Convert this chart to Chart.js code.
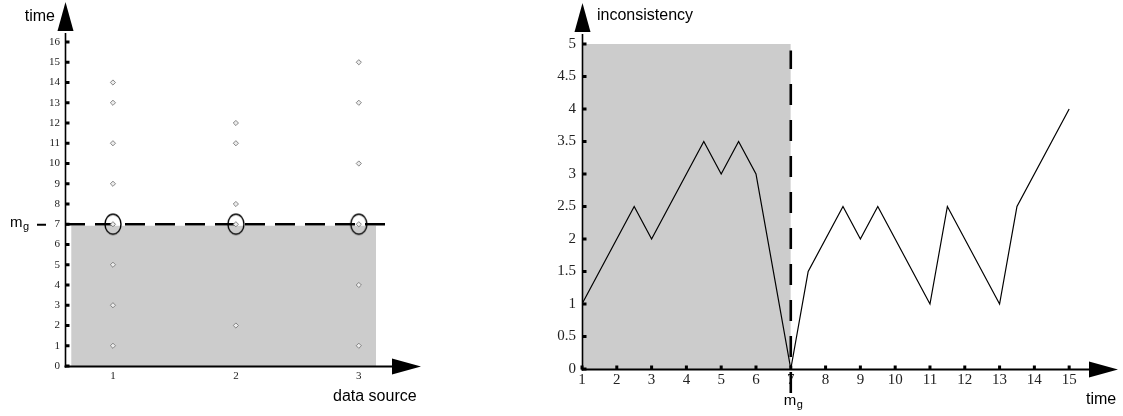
<!DOCTYPE html>
<html>
<head>
<meta charset="utf-8">
<script src="https://cdn.jsdelivr.net/npm/chart.js@4.4.1/dist/chart.umd.min.js"></script>
<style>
  html, body { margin: 0; padding: 0; background: #fff; }
  body { width: 1123px; height: 416px; position: relative; overflow: hidden; }
  canvas { position: absolute; top: 0; }
  #left { left: 0; }
  #right { left: 520px; }
</style>
</head>
<body>
<canvas id="left" width="440" height="416"></canvas>
<canvas id="right" width="603" height="416"></canvas>
<script>
// ---------- DATA (left chart: arrival times per data source) ----------
const dataSources = [1, 2, 3];
const source1Times = [1, 3, 5, 7, 9, 11, 13, 14];
const source2Times = [2, 7, 8, 11, 12];
const source3Times = [1, 4, 7, 10, 13, 15];
const leftTimeTicks = [0, 1, 2, 3, 4, 5, 6, 7, 8, 9, 10, 11, 12, 13, 14, 15, 16];
const leftSourceTicks = [1, 2, 3];
const mg = 7;
const leftShadeX = [0.66, 3.14];
const leftShadeTop = 6.93;
const leftDashX = [0.61, 3.24];

// ---------- DATA (right chart: inconsistency over time) ----------
const timeValues = [1, 2.5, 3, 4.5, 5, 5.5, 6, 7, 7.5, 8.5, 9, 9.5, 11, 11.5, 13, 13.5, 15];
const inconsistencyValues = [1, 2.5, 2, 3.5, 3, 3.5, 3, 0, 1.5, 2.5, 2, 2.5, 1, 2.5, 1, 2.5, 4];
const rightInconsistencyTicks = [0, 0.5, 1, 1.5, 2, 2.5, 3, 3.5, 4, 4.5, 5];
const rightTimeTicks = [1, 2, 3, 4, 5, 6, 7, 8, 9, 10, 11, 12, 13, 14, 15];
const rightShadeX = [1, 7];
const rightShadeTop = 5;
const rightDashY = [-0.37, 4.9];

const SERIF = '"Liberation Serif", "Times New Roman", serif';
const SANS = '"Liberation Sans", Arial, sans-serif';
const SHADE = '#cccccc';

// ellipse marker for the m_g points
function ellipseMarker() {
  const c = document.createElement('canvas');
  c.width = 20; c.height = 24;
  const g = c.getContext('2d');
  g.strokeStyle = '#000';
  g.lineWidth = 1.4;
  g.beginPath();
  g.ellipse(10, 12, 8, 10, 0, 0, Math.PI * 2);
  g.stroke();
  return c;
}

function fixedTicks(arr) {
  return function (scale) { scale.ticks = arr.map(v => ({ value: v })); };
}

function drawArrowUp(ctx, x, tipY, baseY, hw) {
  ctx.beginPath();
  ctx.moveTo(x, tipY);
  ctx.lineTo(x - hw, baseY);
  ctx.lineTo(x + hw, baseY);
  ctx.closePath();
  ctx.fill();
}
function drawArrowRight(ctx, y, baseX, tipX, hh) {
  ctx.beginPath();
  ctx.moveTo(tipX, y);
  ctx.lineTo(baseX, y - hh);
  ctx.lineTo(baseX, y + hh);
  ctx.closePath();
  ctx.fill();
}

function axesPlugin(opt) {
  return {
    id: 'axesArrows',
    afterDraw(chart) {
      const ctx = chart.ctx;
      const a = chart.chartArea;
      const xs = chart.scales.x, ys = chart.scales.y;
      ctx.save();
      ctx.fillStyle = '#000';
      ctx.strokeStyle = '#000';
      const ax = a.left + 0.5;
      const ay = a.bottom + 0.5;
      // y axis
      ctx.lineWidth = opt.yLineWidth;
      ctx.beginPath();
      ctx.moveTo(ax, ay + 1);
      ctx.lineTo(ax, opt.yArrowBase + 2);
      ctx.stroke();
      drawArrowUp(ctx, ax, opt.yArrowTip, opt.yArrowBase, 8);
      // x axis
      ctx.lineWidth = opt.xLineWidth;
      ctx.beginPath();
      ctx.moveTo(ax - 1, ay);
      ctx.lineTo(opt.xArrowBase + 2, ay);
      ctx.stroke();
      drawArrowRight(ctx, ay, opt.xArrowBase, opt.xArrowTip, 8);
      // tick marks
      ys.ticks.forEach(t => {
        const py = ys.getPixelForValue(t.value);
        ctx.fillRect(a.left, py - 1.5, 4.5, 3);
      });
      if (opt.xTickMarks) {
        xs.ticks.forEach(t => {
          const px = xs.getPixelForValue(t.value);
          ctx.fillRect(px - 1.5, a.bottom - 3.5, 3, 4);
        });
      }
      // titles
      ctx.font = '16px ' + SANS;
      ctx.textBaseline = 'alphabetic';
      opt.titles.forEach(tt => {
        ctx.textAlign = tt.align || 'left';
        ctx.fillText(tt.text, tt.x, tt.y);
      });
      // m_g label
      opt.drawMg(ctx, xs, ys);
      ctx.restore();
    }
  };
}

function drawMgText(ctx, x, y) {
  ctx.textAlign = 'left';
  ctx.font = '15px ' + SANS;
  ctx.fillText('m', x, y);
  const w = ctx.measureText('m').width;
  ctx.font = '11px ' + SANS;
  ctx.fillText('g', x + w + 0.5, y + 3);
}

const commonOpts = {
  responsive: false,
  animation: false,
  events: [],
  plugins: { legend: { display: false }, tooltip: { enabled: false } },
};

// ---------------- LEFT CHART ----------------
const marker = ellipseMarker();
const diamondStyle = {
  pointStyle: 'rectRot', pointRadius: 2.6, pointBorderWidth: 0.9,
  pointBorderColor: '#7a7a7a', pointBackgroundColor: '#ececec', showLine: false
};
const srcSeries = [source1Times, source2Times, source3Times];

new Chart(document.getElementById('left'), {
  type: 'scatter',
  data: {
    datasets: [
      {
        type: 'scatter',
        data: dataSources.map(s => ({ x: s, y: mg })),
        pointStyle: marker, pointRadius: 10, showLine: false, order: 0
      },
      ...srcSeries.map((arr, i) => Object.assign({
        type: 'scatter',
        data: arr.map(t => ({ x: dataSources[i], y: t })),
        order: 1
      }, diamondStyle)),
      {
        type: 'line',
        data: leftDashX.map(x => ({ x: x, y: mg })),
        borderColor: '#000', borderWidth: 2.3, borderDash: [20, 10],
        pointRadius: 0, fill: false, order: 2, clip: false
      },
      {
        type: 'line',
        data: leftShadeX.map(x => ({ x: x, y: leftShadeTop })),
        borderWidth: 0, borderColor: 'rgba(0,0,0,0)', backgroundColor: SHADE,
        pointRadius: 0, fill: 'origin', order: 3
      }
    ]
  },
  options: Object.assign({}, commonOpts, {
    layout: { padding: { top: 42, right: 48, left: 0, bottom: 0 } },
    scales: {
      x: {
        type: 'linear', min: 0.61, max: 3.27,
        afterBuildTicks: fixedTicks(leftSourceTicks),
        afterFit: s => { s.height = 50; },
        grid: { display: false, drawTicks: false }, border: { display: false },
        ticks: { font: { family: SERIF, size: 11 }, color: '#222', padding: 4, callback: v => String(v), maxRotation: 0 }
      },
      y: {
        type: 'linear', min: 0, max: 16,
        afterBuildTicks: fixedTicks(leftTimeTicks),
        afterFit: s => { s.width = 65; },
        grid: { display: false, drawTicks: false }, border: { display: false },
        ticks: { font: { family: SERIF, size: 11 }, color: '#222', padding: 5, callback: v => String(v) }
      }
    }
  }),
  plugins: [axesPlugin({
    yLineWidth: 1.6, xLineWidth: 2.2,
    yArrowTip: 2, yArrowBase: 31, xArrowBase: 392, xArrowTip: 421,
    xTickMarks: false,
    titles: [
      { text: 'time', x: 55, y: 21, align: 'right' },
      { text: 'data source', x: 333, y: 401, align: 'left' }
    ],
    drawMg(ctx, xs, ys) {
      const py = ys.getPixelForValue(mg);
      drawMgText(ctx, 10, py + 3);
      ctx.lineWidth = 2;
      ctx.beginPath();
      ctx.moveTo(37, py + 0.5);
      ctx.lineTo(46, py + 0.5);
      ctx.stroke();
    }
  })]
});

// ---------------- RIGHT CHART ----------------
new Chart(document.getElementById('right'), {
  type: 'line',
  data: {
    datasets: [
      {
        data: timeValues.map((t, i) => ({ x: t, y: inconsistencyValues[i] })),
        borderColor: '#000', borderWidth: 1.2, pointRadius: 0, tension: 0,
        fill: false, order: 0
      },
      {
        data: rightDashY.map(y => ({ x: mg, y: y })),
        borderColor: '#000', borderWidth: 2.6, borderDash: [21, 15],
        pointRadius: 0, fill: false, order: 1, clip: false
      },
      {
        data: rightShadeX.map(x => ({ x: x, y: rightShadeTop })),
        borderWidth: 0, borderColor: 'rgba(0,0,0,0)', backgroundColor: SHADE,
        pointRadius: 0, fill: 'origin', order: 2
      }
    ]
  },
  options: Object.assign({}, commonOpts, {
    layout: { padding: { top: 44, right: 34, left: 0, bottom: 0 } },
    scales: {
      x: {
        type: 'linear', min: 1, max: 15.57,
        afterBuildTicks: fixedTicks(rightTimeTicks),
        afterFit: s => { s.height = 47; },
        grid: { display: false, drawTicks: false }, border: { display: false },
        ticks: { font: { family: SERIF, size: 15 }, color: '#222', padding: 2, callback: v => String(v), maxRotation: 0, autoSkip: false }
      },
      y: {
        type: 'linear', min: 0, max: 5,
        afterBuildTicks: fixedTicks(rightInconsistencyTicks),
        afterFit: s => { s.width = 62; },
        grid: { display: false, drawTicks: false }, border: { display: false },
        ticks: { font: { family: SERIF, size: 15 }, color: '#222', padding: 6, callback: v => String(v) }
      }
    }
  }),
  plugins: [axesPlugin({
    yLineWidth: 1.6, xLineWidth: 1.8,
    yArrowTip: 3, yArrowBase: 32, xArrowBase: 569, xArrowTip: 598,
    xTickMarks: true,
    titles: [
      { text: 'inconsistency', x: 597 - 520, y: 20, align: 'left' },
      { text: 'time', x: 1086 - 520, y: 404, align: 'left' }
    ],
    drawMg(ctx, xs, ys) {
      const px = xs.getPixelForValue(mg);
      drawMgText(ctx, px - 7, 405);
    }
  })]
});
</script>
</body>
</html>
